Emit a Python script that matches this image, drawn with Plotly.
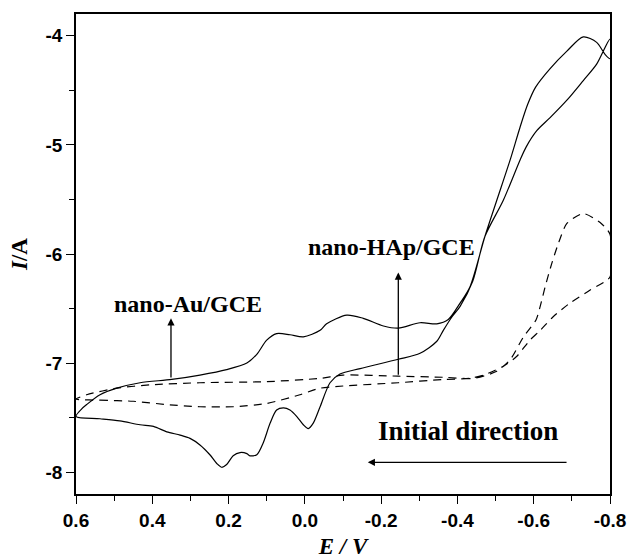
import plotly.graph_objects as go

# ---- data (E in V, I as log current) ----
au_E = [0.600, 0.585, 0.572, 0.537, 0.493, 0.432, 0.349, 0.275, 0.205, 0.152, 0.126, 0.100, 0.074,
        0.039, 0.004, -0.040, -0.057, -0.110, -0.153, -0.206, -0.245, -0.302, -0.346, -0.376,
        -0.407, -0.433, -0.472, -0.503, -0.538, -0.564, -0.584, -0.605, -0.643, -0.687, -0.730, -0.765,
        -0.787, -0.800,
        -0.800, -0.765, -0.730, -0.687, -0.643, -0.608, -0.580, -0.564, -0.520, -0.472, -0.440, -0.407,
        -0.385, -0.363, -0.346, -0.302, -0.245, -0.145, -0.092, -0.066, -0.040, -0.022, -0.009,
        0.004, 0.021, 0.039, 0.056, 0.074, 0.091, 0.109, 0.126, 0.144, 0.152, 0.170, 0.188, 0.205,
        0.218, 0.231, 0.249, 0.275, 0.301, 0.327, 0.362, 0.397, 0.432, 0.485, 0.537, 0.600]
au_I = [-7.49, -7.42, -7.38, -7.29, -7.23, -7.18, -7.15, -7.11, -7.06, -7.00, -6.92, -6.79, -6.73,
        -6.74, -6.76, -6.70, -6.64, -6.56, -6.59, -6.66, -6.68, -6.63, -6.64, -6.60,
        -6.45, -6.30, -5.84, -5.51, -5.14, -4.84, -4.63, -4.47, -4.30, -4.14, -4.01, -4.06,
        -4.17, -4.21,
        -4.03, -4.26, -4.41, -4.59, -4.75, -4.87, -5.02, -5.14, -5.51, -5.84, -6.25, -6.48,
        -6.58, -6.70, -6.80, -6.91, -6.965, -7.05, -7.10, -7.18, -7.40, -7.55, -7.60,
        -7.565, -7.49, -7.43, -7.41, -7.43, -7.55, -7.73, -7.84, -7.85, -7.83, -7.82, -7.85, -7.93,
        -7.955, -7.92, -7.84, -7.75, -7.69, -7.66, -7.63, -7.58, -7.565, -7.53, -7.51, -7.49]

hap_E = [0.600, 0.537, 0.450, 0.362, 0.275, 0.188, 0.100, 0.013, -0.040, -0.100, -0.245, -0.363,
         -0.433, -0.468, -0.520, -0.555, -0.590, -0.617, -0.651, -0.695, -0.748, -0.800,
         -0.800, -0.777, -0.730, -0.687, -0.665, -0.647, -0.630, -0.617, -0.606, -0.573, -0.538,
         -0.500, -0.442, -0.363, -0.245, -0.100, -0.040, 0.100, 0.275, 0.406, 0.493, 0.572, 0.600]
hap_I = [-7.33, -7.34, -7.35, -7.38, -7.40, -7.40, -7.37, -7.29, -7.23, -7.21, -7.18, -7.15,
         -7.14, -7.11, -7.03, -6.94, -6.79, -6.70, -6.575, -6.45, -6.33, -6.21,
         -5.82, -5.72, -5.63, -5.72, -5.90, -6.09, -6.30, -6.48, -6.605, -6.76, -6.97,
         -7.08, -7.14, -7.13, -7.12, -7.11, -7.14, -7.17, -7.18, -7.20, -7.23, -7.29, -7.33]

x_tick_vals = [0.6, 0.4, 0.2, 0.0, -0.2, -0.4, -0.6, -0.8]
x_tick_text = ["0.6", "0.4", "0.2", "0.0", "-0.2", "-0.4", "-0.6", "-0.8"]
y_tick_vals = [-8, -7, -6, -5, -4]
y_tick_text = ["-8", "-7", "-6", "-5", "-4"]

fig = go.Figure()
fig.add_trace(go.Scatter(x=au_E, y=au_I, mode="lines", name="nano-Au/GCE",
                         line=dict(color="black", width=1.2, shape="spline", smoothing=0.8)))
fig.add_trace(go.Scatter(x=hap_E, y=hap_I, mode="lines", name="nano-HAp/GCE",
                         line=dict(color="black", width=1.2, dash="8px,6px", shape="spline",
                                   smoothing=0.7)))

serif = "Liberation Serif, Times New Roman, serif"
sans = "Arial, Liberation Sans, sans-serif"

axis_common = dict(showgrid=False, zeroline=False, showline=True, linecolor="black", linewidth=1.5,
                   mirror=True, ticks="outside", ticklen=8, tickwidth=1.3, tickcolor="black",
                   automargin=False,
                   tickfont=dict(family=sans, size=19, color="black", weight=800))

fig.update_xaxes(range=[0.6, -0.8], tickmode="array", tickvals=x_tick_vals,
                 ticktext=x_tick_text,
                 minor=dict(tickmode="linear", tick0=0, dtick=0.1, ticks="outside", ticklen=5,
                            tickwidth=1.3, tickcolor="black"),
                 title=dict(text="<b><i>E / V</i></b>", font=dict(family=serif, size=23, color="black"),
                            standoff=10),
                 **axis_common)
fig.update_yaxes(range=[-8.2, -3.8], tickmode="array", tickvals=y_tick_vals,
                 ticktext=y_tick_text,
                 minor=dict(tickmode="linear", tick0=0, dtick=0.5, ticks="outside", ticklen=5,
                            tickwidth=1.3, tickcolor="black"),
                 title=dict(text="<b><i>I</i>/A</b>", font=dict(family=serif, size=23, color="black"),
                            standoff=11),
                 **axis_common)

ann_font = dict(family=serif, size=24, color="black", weight="bold")
fig.add_annotation(x=0.306, y=-6.46, text="nano-Au/GCE", showarrow=False, font=ann_font)
fig.add_annotation(x=-0.226, y=-5.94, text="nano-HAp/GCE", showarrow=False, font=ann_font)
fig.add_annotation(x=-0.428, y=-7.62, text="Initial direction", showarrow=False,
                   font=dict(family=serif, size=27, color="black", weight="bold"))

arrow_style = dict(showarrow=True, arrowhead=2, arrowsize=1.1, arrowwidth=1.3, arrowcolor="black",
                   axref="x", ayref="y", text="")
fig.add_annotation(x=0.351, y=-6.59, ax=0.351, ay=-7.145, **arrow_style)
fig.add_annotation(x=-0.245, y=-6.17, ax=-0.245, ay=-7.12, **arrow_style)
fig.add_annotation(x=-0.165, y=-7.91, ax=-0.69, ay=-7.91, **arrow_style)

fig.update_layout(width=630, height=559, margin=dict(l=76, r=20, t=14, b=65),
                  paper_bgcolor="white", plot_bgcolor="white", showlegend=False)

fig.write_html("out.html")
